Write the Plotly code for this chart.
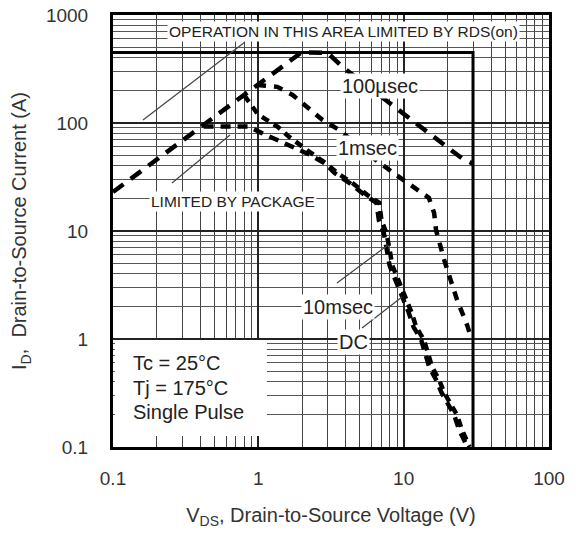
import plotly.graph_objects as go

# ---------------- data ----------------
x_ticks = [0.1, 1, 10, 100]
x_ticklabels = ["0.1", "1", "10", "100"]
y_ticks = [0.1, 1, 10, 100, 1000]
y_ticklabels = ["0.1", "1", "10", "100", "1000"]

# 100 usec curve (includes the RDS(on) limited rising part)
v_100us = [0.1, 0.3, 1.0, 1.98, 3.0, 3.8, 8.0, 13.4, 25.2, 30]
i_100us = [23, 69, 230, 450, 445, 330, 153, 90, 47, 42]

# 1 msec curve
v_1ms = [0.98, 1.35, 1.72, 2.18, 2.76, 3.61, 5.0, 6.49, 8.9, 10.6, 12.8,
         14.9, 16.2, 16.7, 19.0, 21.2, 23.3, 27.3, 29.0]
i_1ms = [225, 216, 182, 138, 107, 86, 60, 45, 33, 27.8, 23,
         20.3, 14.7, 10.2, 5.4, 3.3, 2.3, 1.35, 1.05]

# 10 msec curve
v_10ms = [0.8, 0.99, 1.36, 1.64, 2.21, 2.9, 3.5, 4.44, 5.63, 6.8, 7.03, 7.6,
          7.96, 8.35, 8.9, 10.1, 11.3, 12.2, 13.8, 15.7, 17.5, 19.0, 21.6,
          23.3, 25.2, 27.3, 28.4]
i_10ms = [180, 121, 92, 74, 55, 42.6, 34.4, 27.8, 21.5, 18.2, 12.6, 9.6,
          7.0, 4.8, 3.9, 2.55, 1.78, 1.29, 0.98, 0.55, 0.42, 0.32, 0.234,
          0.197, 0.144, 0.111, 0.1]

# DC curve (package limited plateau)
v_dc = [0.42, 0.85, 1.05, 1.31, 1.69, 2.25, 2.9, 3.35, 4.25, 5.4, 6.5, 6.75,
        7.3, 7.6, 8.0, 8.5, 9.7, 10.8, 11.7, 13.2, 15.0, 16.7, 18.2, 20.6,
        22.3, 24.1, 26.2, 27.5]
i_dc = [93, 93, 81, 71, 61, 51, 42, 34.4, 27.8, 21.5, 18.2, 12.6,
        9.6, 7.0, 4.8, 3.9, 2.55, 1.78, 1.29, 0.98, 0.55, 0.42, 0.32, 0.234,
        0.197, 0.144, 0.111, 0.1]

# heavy limit box (max current / max voltage)
v_limit = [0.1, 30, 30]
i_limit = [450, 450, 0.1]

# ---------------- figure ----------------
L, R, T, B = 113, 27, 15, 89
W, H = 576, 536
PW, PH = W - L - R, H - T - B


def px(xp):
    return (xp - L) / PW


def py(yp):
    return (H - B - yp) / PH


fig = go.Figure()

fig.add_trace(go.Scatter(x=v_limit, y=i_limit, mode="lines",
                         line=dict(color="black", width=3), hoverinfo="skip"))

curve_line = dict(color="black", width=4.5)
fig.add_trace(go.Scatter(x=v_100us, y=i_100us, mode="lines",
                         line=dict(curve_line, dash="13px,9px")))
fig.add_trace(go.Scatter(x=v_1ms, y=i_1ms, mode="lines",
                         line=dict(curve_line, dash="9px,8px")))
fig.add_trace(go.Scatter(x=v_10ms, y=i_10ms, mode="lines",
                         line=dict(curve_line, dash="8px,6px")))
fig.add_trace(go.Scatter(x=v_dc, y=i_dc, mode="lines",
                         line=dict(curve_line, dash="10px,7px")))

minor_x = [m * d for d in [0.1, 1, 10] for m in range(2, 10)]
minor_y = [m * d for d in [0.1, 1, 10, 100] for m in range(2, 10)]

font_fam = "Liberation Sans, Arial, Helvetica, sans-serif"

fig.update_xaxes(type="log", range=[-1, 2], tickvals=x_ticks, ticktext=x_ticklabels,
                 automargin=False,
                 showgrid=True, gridcolor="#222", gridwidth=2,
                 minor=dict(tickmode="array", tickvals=minor_x, showgrid=True,
                            gridcolor="#444", gridwidth=1, ticks=""),
                 showline=True, linecolor="black", linewidth=3, mirror=True,
                 ticks="", ticklabelstandoff=12, zeroline=False,
                 tickfont=dict(size=19, color="#333", family=font_fam),
                 title=dict(text="V<sub>DS</sub>, Drain-to-Source Voltage (V)",
                            font=dict(size=20, color="#333", family=font_fam),
                            standoff=21))
fig.update_yaxes(type="log", range=[-1, 3], tickvals=y_ticks, ticktext=y_ticklabels,
                 automargin=False,
                 showgrid=True, gridcolor="#222", gridwidth=2,
                 minor=dict(tickmode="array", tickvals=minor_y, showgrid=True,
                            gridcolor="#555", gridwidth=1, ticks=""),
                 showline=True, linecolor="black", linewidth=3, mirror=True,
                 ticks="", ticklabelstandoff=18, zeroline=False,
                 tickfont=dict(size=19, color="#333", family=font_fam),
                 title=dict(text="I<sub>D</sub>,  Drain-to-Source Current (A)",
                            font=dict(size=20, color="#333", family=font_fam),
                            standoff=14))

# white box behind the conditions text
fig.add_shape(type="rect", xref="paper", yref="paper",
              x0=px(115), x1=px(267), y0=py(436), y1=py(340),
              fillcolor="white", line=dict(width=0), layer="above")

# leader lines
for (x0, y0, x1, y1) in [(143, 120, 245, 42), (172, 183, 230, 135),
                         (337, 283, 388, 245), (362, 328, 402, 297)]:
    fig.add_shape(type="line", xref="paper", yref="paper",
                  x0=px(x0), y0=py(y0), x1=px(x1), y1=py(y1),
                  line=dict(color="#444", width=1.2), layer="above")


def label(text, xp_, yp_, size, xanchor="center"):
    fig.add_annotation(text=text, xref="paper", yref="paper",
                       x=px(xp_), y=py(yp_), xanchor=xanchor, yanchor="middle",
                       showarrow=False, bgcolor="white", borderpad=1,
                       font=dict(size=size, color="#222", family=font_fam))


label("OPERATION IN THIS AREA LIMITED BY RDS(on)", 343, 31, 15.5)
label("LIMITED BY PACKAGE", 233, 201, 15.5)
label("100µsec", 380, 86, 20)
label("1msec", 367, 148, 20)
label("10msec", 338, 307, 20)
label("DC", 353, 342, 20)

for txt, yy in [("Tc = 25°C", 363), ("Tj = 175°C", 388), ("Single Pulse", 412)]:
    fig.add_annotation(text=txt, xref="paper", yref="paper", x=px(131), y=py(yy),
                       xanchor="left", yanchor="middle", showarrow=False,
                       font=dict(size=20, color="#222", family=font_fam))

fig.update_layout(width=W, height=H, margin=dict(l=L, r=R, t=T, b=B, autoexpand=False),
                  paper_bgcolor="white", plot_bgcolor="white", showlegend=False)

fig.write_html("out.html")
